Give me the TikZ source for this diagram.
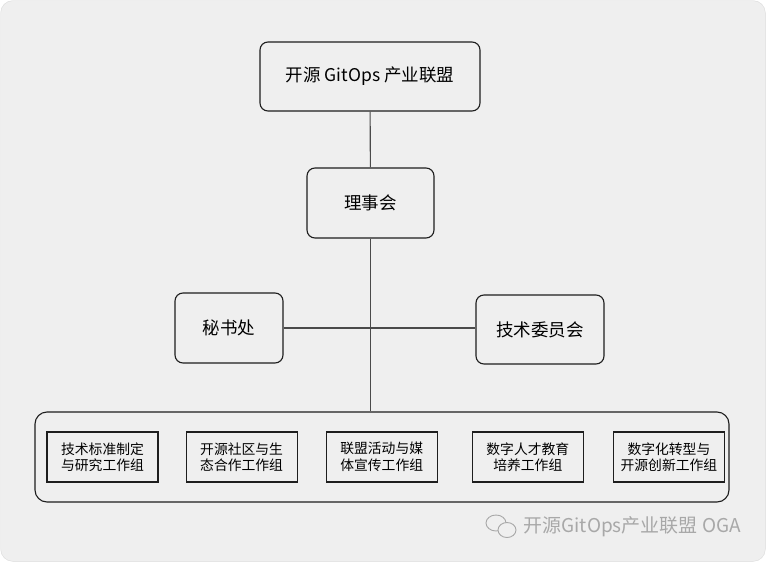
\documentclass[tikz,border=0pt]{standalone}
\usepackage{fontspec}
\setmainfont{Noto Sans CJK SC}
\usepackage{xcolor}
\usetikzlibrary{positioning}

\definecolor{pagegray}{HTML}{EFEFEF}
\definecolor{pageline}{HTML}{DADADA}
\definecolor{boxline}{HTML}{1E1E1E}
\definecolor{linkgray}{HTML}{4A4A4A}
\definecolor{markgray}{HTML}{A8A8A8}

\begin{document}
\begin{tikzpicture}[x=1pt, y=-1pt, node distance=27pt,
                main node/.style={draw=boxline, line width=1.1pt, rounded corners=8pt,
                                  font=\fontsize{17.5}{21}\selectfont, align=center},
                group node/.style={draw=boxline, line width=1.1pt, minimum width=111pt,
                                   minimum height=50pt, inner sep=2pt,
                                   font=\fontsize{13.8}{16.5}\selectfont, align=center},
                link/.style={linkgray, line width=1.1pt}]

      \useasboundingbox (0,0) rectangle (766,562);
      \filldraw[fill=pagegray, draw=pageline, rounded corners=12pt] (0.7,0.7) rectangle (765.3,561.3);

      % top of the tree
      \node[main node, minimum width=220pt, minimum height=69pt] (alliance) at (370,76.5) {开源 GitOps 产业联盟};
      \node[main node, minimum width=127pt, minimum height=70pt] (council) at (370.5,203) {理事会};
      \node[main node, minimum width=108pt, minimum height=70pt] (secretariat) at (229,328) {秘书处};
      \node[main node, minimum width=128pt, minimum height=69pt] (techcomm) at (540,329.5) {技术委员会};

      % working groups
      \node[draw=boxline, line width=1.1pt, rounded corners=12pt, minimum width=694pt,
            minimum height=90pt] (wg) at (382,457) {};
      \node[group node] (g1) at (102.5,457) {技术标准制定\\与研究工作组};
      \node[group node] (g2) [right=27pt of g1] {开源社区与生\\态合作工作组};
      \node[group node] (g3) [right=28pt of g2] {联盟活动与媒\\体宣传工作组};
      \node[group node] (g4) [right=34pt of g3] {数字人才教育\\培养工作组};
      \node[group node] (g5) [right=29pt of g4] {数字化转型与\\开源创新工作组};

      \draw[link] (alliance) -- (council);
      \draw[link] (council) -- (council |- wg.north);
      \draw[link] (secretariat) -- (secretariat -| techcomm.west);

      % watermark
      \draw[markgray, line width=0.9pt] (496,523) ellipse (10pt and 8pt);
      \filldraw[fill=pagegray, draw=markgray, line width=0.9pt] (507,530) ellipse (9pt and 7.5pt);
      \node[text=markgray, font=\fontsize{19}{21}\selectfont, anchor=west] (mark) at (520,527) {开源GitOps产业联盟 OGA};
  \end{tikzpicture}
\end{document}
